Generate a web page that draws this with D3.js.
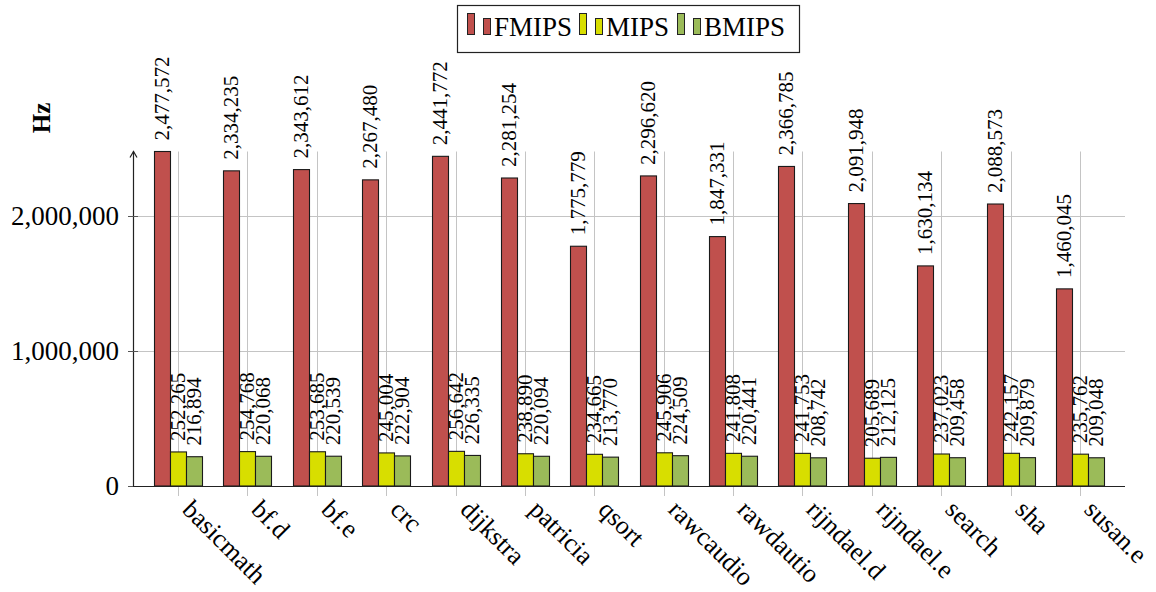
<!DOCTYPE html>
<html>
<head>
<meta charset="utf-8">
<script src="https://cdn.jsdelivr.net/npm/d3@7"></script>
<style>
  html, body { margin: 0; padding: 0; background: #fff; }
  svg { display: block; }
</style>
</head>
<body>
<svg id="chart" width="1156" height="592" font-family="'Liberation Serif', 'Times New Roman', 'DejaVu Serif', serif"></svg>
<script>
// Benchmarks and measured frequencies (Hz)
const categories = ["basicmath", "bf.d", "bf.e", "crc", "dijkstra", "patricia", "qsort",
  "rawcaudio", "rawdautio", "rijndael.d", "rijndael.e", "search", "sha", "susan.e"];
const fmips = [2477572, 2334235, 2343612, 2267480, 2441772, 2281254, 1775779,
  2296620, 1847331, 2366785, 2091948, 1630134, 2088573, 1460045];
const mips = [252265, 254768, 253685, 245004, 256642, 238890, 234665,
  245906, 241808, 241753, 205689, 237023, 242157, 235762];
const bmips = [216894, 220068, 220539, 222904, 226335, 220094, 213770,
  224509, 220441, 208742, 212125, 209458, 209879, 209048];
const seriesNames = ["FMIPS", "MIPS", "BMIPS"];
const seriesColors = ["#c0504d", "#d8de00", "#9bbb59"];
const yTickValues = [0, 1000000, 2000000];
const yLabel = "Hz";

const series = [fmips, mips, bmips];

const svg = d3.select("#chart");
const plotLeft = 133, plotRight = 1125, plotBottom = 486;
const ymax = d3.max(fmips);

const x = d3.scaleLinear().domain([-0.65, categories.length - 1 + 0.65]).range([plotLeft, plotRight]);
const y = d3.scaleLinear().domain([0, ymax]).range([plotBottom, 151.5]);
const plotTop = y(ymax);
const barW = 16;
const fmt = d3.format(",");

// grid
const grid = svg.append("g").attr("stroke", "#c4c4c4").attr("stroke-width", 1);
categories.forEach((c, i) => {
  grid.append("line")
    .attr("x1", Math.round(x(i)) + 0.5).attr("x2", Math.round(x(i)) + 0.5)
    .attr("y1", plotTop).attr("y2", plotBottom + 10);
});
yTickValues.filter(v => v > 0).forEach(v => {
  grid.append("line")
    .attr("x1", plotLeft).attr("x2", plotRight)
    .attr("y1", Math.round(y(v)) + 0.5).attr("y2", Math.round(y(v)) + 0.5);
});

// bars
const bars = svg.append("g");
series.forEach((vals, s) => {
  bars.selectAll(null).data(vals).enter().append("rect")
    .attr("x", (d, i) => Math.round(x(i)) - 24 + s * barW + 0.5)
    .attr("y", d => y(d))
    .attr("width", barW)
    .attr("height", d => plotBottom - y(d))
    .attr("fill", seriesColors[s])
    .attr("stroke", "#1a1a1a")
    .attr("stroke-width", 1.1);
});

// value labels
const labels = svg.append("g").attr("font-size", 21);
series.forEach((vals, s) => {
  labels.selectAll(null).data(vals).enter().append("text")
    .attr("transform", (d, i) => {
      const cx = Math.round(x(i)) - 24 + s * barW + barW / 2;
      return `translate(${cx},${y(d) - 11}) rotate(-90)`;
    })
    .attr("dy", "0.35em")
    .attr("text-anchor", "start")
    .text(d => fmt(d));
});

// y axis
const yAxis = svg.append("g");
yAxis.append("line")
  .attr("x1", plotLeft + 0.5).attr("x2", plotLeft + 0.5)
  .attr("y1", plotBottom).attr("y2", plotTop)
  .attr("stroke", "#222").attr("stroke-width", 1.2);
yAxis.append("path")
  .attr("d", `M${plotLeft - 3},${plotTop + 6} L${plotLeft + 0.5},${plotTop} L${plotLeft + 4},${plotTop + 6}`)
  .attr("fill", "none").attr("stroke", "#222").attr("stroke-width", 1.2);
yTickValues.forEach(v => {
  yAxis.append("line")
    .attr("x1", plotLeft - 5).attr("x2", plotLeft + 5)
    .attr("y1", Math.round(y(v)) + 0.5).attr("y2", Math.round(y(v)) + 0.5)
    .attr("stroke", "#555").attr("stroke-width", 1);
  yAxis.append("text")
    .attr("x", 119).attr("y", y(v))
    .attr("dy", "0.35em")
    .attr("text-anchor", "end")
    .attr("font-size", 27)
    .text(fmt(v));
});
yAxis.append("text")
  .attr("transform", "translate(41,118) rotate(-90)")
  .attr("text-anchor", "middle")
  .attr("dy", "0.35em")
  .attr("font-size", 25)
  .attr("font-weight", "bold")
  .text(yLabel);

// x axis
const xAxis = svg.append("g");
xAxis.append("line")
  .attr("x1", plotLeft).attr("x2", plotRight)
  .attr("y1", plotBottom + 0.5).attr("y2", plotBottom + 0.5)
  .attr("stroke", "#222").attr("stroke-width", 1.2);
categories.forEach((c, i) => {
  xAxis.append("text")
    .attr("transform", `translate(${Math.round(x(i)) + 3},${plotBottom + 25}) rotate(45)`)
    .attr("text-anchor", "start")
    .attr("font-size", 26)
    .text(c);
});

// legend
const legend = svg.append("g");
legend.append("rect")
  .attr("x", 457.5).attr("y", 5.5).attr("width", 342).attr("height", 47)
  .attr("fill", "#fff").attr("stroke", "#222").attr("stroke-width", 1.2);
const legendX = [467, 579, 677];
seriesNames.forEach((name, s) => {
  const lx = legendX[s];
  legend.append("rect")
    .attr("x", lx + 0.5).attr("y", 13.5).attr("width", 7).attr("height", 21)
    .attr("fill", seriesColors[s]).attr("stroke", "#222").attr("stroke-width", 1);
  legend.append("rect")
    .attr("x", lx + 16.5).attr("y", 18.5).attr("width", 7).attr("height", 16)
    .attr("fill", seriesColors[s]).attr("stroke", "#222").attr("stroke-width", 1);
  legend.append("text")
    .attr("x", lx + 27).attr("y", 36)
    .attr("font-size", 27)
    .text(name);
});
</script>
</body>
</html>
